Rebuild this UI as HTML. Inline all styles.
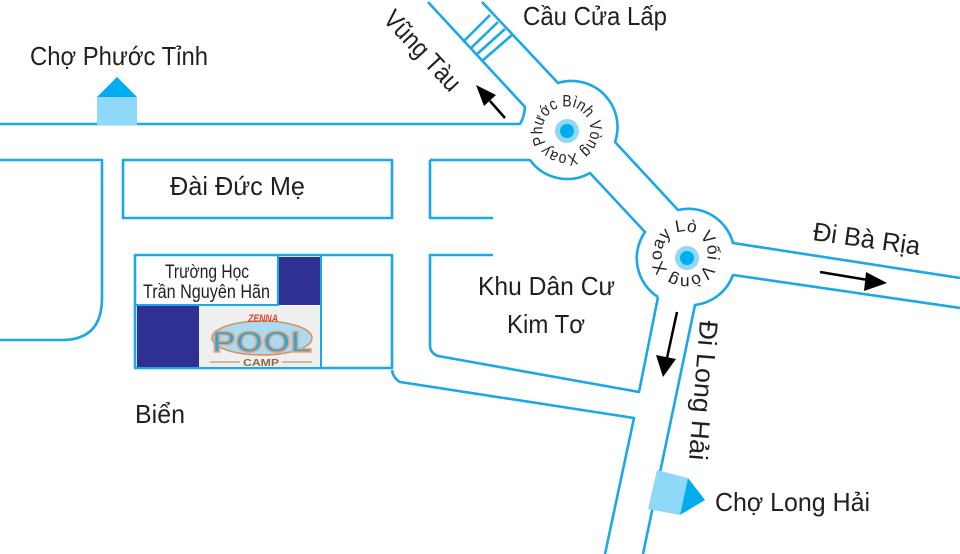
<!DOCTYPE html>
<html><head><meta charset="utf-8"><style>
html,body{margin:0;padding:0;background:#fff;width:960px;height:554px;overflow:hidden}
svg{display:block}
text{font-family:"Liberation Sans Narrow","Liberation Sans","DejaVu Sans",sans-serif;fill:#231f20}
</style></head><body>
<svg width="960" height="554" viewBox="0 0 960 554" xmlns="http://www.w3.org/2000/svg">
<g fill="none" stroke="#1ba8e6" stroke-width="2.6" stroke-linejoin="round">
  <path d="M0,124 L520,124 Q524,118 525,107 L428,2"/>
  <path d="M482,2 L558,83 A46,46 0 0 1 615,142 L678,210 A46,46 0 0 1 733,243 L960,278"/>
  <path d="M960,308 L733,275 A46,46 0 0 1 695,305 L643,554"/>
  <path d="M605,554 L634,418 L400,382 Q393,378 392,370"/>
  <path d="M658,297 A46,46 0 0 1 645,232 L590,173 A46,46 0 0 1 530,160 L430,160"/>
  <path d="M658,297 L639,392 L438,356 Q430,353 430,345 L430,255 L493,255"/>
  <path d="M430,160 L430,218 L493,218"/>
  <path d="M0,160 L102,160 L102,298 Q102,340 62,340 L0,340"/>
  <rect x="123" y="160" width="269" height="58"/>
  <rect x="135" y="255" width="257" height="113"/>
  <path d="M463,42 L490,15 M470,49 L498,22 M476,55 L505,29 M482,61 L512,35"/>
</g>
<rect x="277" y="257" width="44" height="48" fill="#2e3192"/>
<rect x="137" y="305" width="62" height="62" fill="#2e3192"/>
<rect x="199" y="306" width="121" height="61" fill="#efefef"/>
<line x1="321" y1="256" x2="321" y2="368" stroke="#1ba8e6" stroke-width="2"/>
<line x1="136" y1="305" x2="279" y2="305" stroke="#1ba8e6" stroke-width="2"/>
<line x1="278" y1="256" x2="278" y2="305" stroke="#1ba8e6" stroke-width="2"/>
<ellipse cx="262" cy="338" rx="50" ry="17" fill="#a9dcf2" stroke="#d9905a" stroke-width="1.5"/>
<text x="248" y="322" font-size="11" font-style="italic" font-weight="bold" style="fill:#e2452f" textLength="30" lengthAdjust="spacingAndGlyphs">ZENNA</text>
<text x="212" y="352" font-size="30" font-weight="bold" style="fill:#2aa8de;stroke:#f1a27a;stroke-width:1.5" textLength="100" lengthAdjust="spacingAndGlyphs">POOL</text>
<line x1="210" y1="362" x2="240" y2="362" stroke="#a08060" stroke-width="1"/>
<line x1="282" y1="362" x2="312" y2="362" stroke="#a08060" stroke-width="1"/>
<text x="243" y="366" font-size="10" font-weight="bold" style="fill:#8a6a48" textLength="36" lengthAdjust="spacingAndGlyphs">CAMP</text>
<rect x="97" y="97" width="40" height="28" fill="#8ed8f8"/>
<polygon points="97,97 117,77 137,97" fill="#00aeef"/>
<polygon points="657,470 688,478 680,515 648,509" fill="#8ed8f8"/>
<polygon points="688,478 705,500 680,515" fill="#00aeef"/>
<circle cx="567" cy="131" r="12" fill="#8ed8f8"/><circle cx="567" cy="131" r="7" fill="#00aeef"/>
<circle cx="687" cy="258" r="12" fill="#8ed8f8"/><circle cx="687" cy="258" r="7" fill="#00aeef"/>
<defs>
  <path id="c1" d="M546,143 A24,24 0 1 1 547,144.5"/>
  <path id="c2" d="M668,270 A23,23 0 1 1 669,271"/>
</defs>
<text font-size="16.5" font-family="Liberation Sans"><textPath href="#c1" textLength="148" lengthAdjust="spacingAndGlyphs">Phước Bình Vòng Xoay</textPath></text>
<text font-size="17" font-family="Liberation Sans"><textPath href="#c2" textLength="140" lengthAdjust="spacingAndGlyphs">Xoay Lò Vối Vòng</textPath></text>
<g stroke="#000" stroke-width="2.5" fill="#000">
  <line x1="505" y1="118" x2="490" y2="101"/>
  <polygon points="476,85 496,95 484,106" stroke="none"/>
  <line x1="820" y1="272" x2="868" y2="280"/>
  <polygon points="887,283 866,272 864,291" stroke="none"/>
  <line x1="677" y1="312" x2="667" y2="358"/>
  <polygon points="663,377 656,355 676,359" stroke="none"/>
</g>
<text x="30" y="65" font-size="26" textLength="178" lengthAdjust="spacingAndGlyphs">Chợ Phước Tỉnh</text>
<text x="523" y="25" font-size="26" textLength="144" lengthAdjust="spacingAndGlyphs">Cầu Cửa Lấp</text>
<text x="170" y="195" font-size="26" textLength="135" lengthAdjust="spacingAndGlyphs">Đài Đức Mẹ</text>
<text x="165" y="278" font-size="19" textLength="84" lengthAdjust="spacingAndGlyphs">Trường Học</text>
<text x="143" y="298" font-size="19" textLength="127" lengthAdjust="spacingAndGlyphs">Trần Nguyên Hãn</text>
<text x="478" y="295" font-size="26" textLength="137" lengthAdjust="spacingAndGlyphs">Khu Dân Cư</text>
<text x="507" y="333" font-size="26" textLength="78" lengthAdjust="spacingAndGlyphs">Kim Tơ</text>
<text x="135" y="423" font-size="26" textLength="50" lengthAdjust="spacingAndGlyphs">Biển</text>
<text x="715" y="511" font-size="26" textLength="155" lengthAdjust="spacingAndGlyphs">Chợ Long Hải</text>
<text transform="translate(812,240) rotate(8)" font-size="26" textLength="108" lengthAdjust="spacingAndGlyphs">Đi Bà Rịa</text>
<text transform="translate(700,320) rotate(94.5)" font-size="26" textLength="140" lengthAdjust="spacingAndGlyphs">Đi Long Hải</text>
<text transform="translate(382,20) rotate(47)" font-size="26" textLength="100" lengthAdjust="spacingAndGlyphs">Vũng Tàu</text>
</svg>
</body></html>
